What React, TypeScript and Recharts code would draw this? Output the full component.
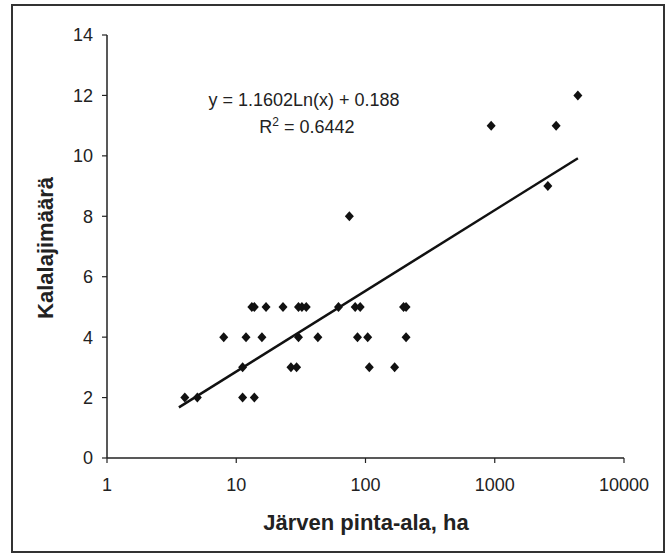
import React from 'react';
import { ScatterChart, Scatter, XAxis, YAxis, Label } from 'recharts';

// lake area in hectares and the number of fish species found in it
const lakeArea = [
  4.0, 5.0, 11.2, 13.8,
  11.2, 26.5, 29.3, 107, 168,
  8.0, 11.9, 15.8, 30.3, 42.8, 86.7, 104, 206,
  13.2, 13.8, 17.0, 23.0, 30.3, 32.2, 34.8, 61.8, 83.2, 91, 197, 206,
  75, 2575, 938, 2985, 4395,
];
const speciesCount = [
  2, 2, 2, 2,
  3, 3, 3, 3, 3,
  4, 4, 4, 4, 4, 4, 4, 4,
  5, 5, 5, 5, 5, 5, 5, 5, 5, 5, 5, 5,
  8, 9, 11, 11, 12,
];

// logarithmic trend y = a*ln(x) + b, drawn over the data range
const trendA = 1.1602;
const trendB = 0.188;
const trendRSquared = 0.6442;
const trendRange = [3.6, 4400];

const xTicks = [1, 10, 100, 1000, 10000];
const yTicks = [0, 2, 4, 6, 8, 10, 12, 14];

const lakes = lakeArea.map((x, i) => ({ x, y: speciesCount[i] }));
const trend = trendRange.map((x) => ({ x, y: trendA * Math.log(x) + trendB }));

const FONT = '"Liberation Sans", Arial, sans-serif';
const INK = '#222';

const Diamond = (props: any) => {
  const { cx, cy } = props;
  return (
    <path
      d={`M${cx},${cy - 5}L${cx + 4.5},${cy}L${cx},${cy + 5}L${cx - 4.5},${cy}Z`}
      fill="#111"
    />
  );
};

const NoDot = () => <g />;

export default function App() {
  return (
    <div style={{ position: 'absolute', left: 0, top: 0, width: 666, height: 558, background: '#fff' }}>
      <div
        style={{
          position: 'absolute',
          left: 11,
          top: 4,
          width: 654,
          height: 549,
          border: '2px solid #333',
          boxSizing: 'border-box',
        }}
      />
      <div style={{ position: 'absolute', left: 0, top: 0 }}>
        <ScatterChart width={666} height={558} margin={{ top: 35, right: 42, bottom: 0, left: 0 }}>
          <XAxis
            type="number"
            dataKey="x"
            scale="log"
            domain={[1, 10000]}
            ticks={xTicks}
            allowDataOverflow
            height={100}
            tickSize={5}
            tickMargin={15}
            axisLine={{ stroke: INK, strokeWidth: 1.5 }}
            tickLine={{ stroke: INK, strokeWidth: 1.2 }}
            tick={{ fontSize: 18, fill: INK, fontFamily: FONT }}
          >
            <Label
              content={() => (
                <text x={366} y={530} textAnchor="middle" fontSize={22} fontWeight="bold" fill={INK} fontFamily={FONT}>
                  Järven pinta-ala, ha
                </text>
              )}
            />
          </XAxis>
          <YAxis
            type="number"
            dataKey="y"
            domain={[0, 14]}
            ticks={yTicks}
            width={107}
            tickSize={5}
            tickMargin={9}
            axisLine={{ stroke: INK, strokeWidth: 1.5 }}
            tickLine={{ stroke: INK, strokeWidth: 1.2 }}
            tick={{ fontSize: 18, fill: INK, fontFamily: FONT }}
          >
            <Label
              content={() => (
                <text
                  x={53}
                  y={248}
                  transform="rotate(-90, 53, 248)"
                  textAnchor="middle"
                  fontSize={22}
                  fontWeight="bold"
                  fill={INK}
                  fontFamily={FONT}
                >
                  Kalalajimäärä
                </text>
              )}
            />
          </YAxis>
          <Scatter
            data={trend}
            line={{ stroke: '#111', strokeWidth: 2.5 }}
            shape={NoDot}
            isAnimationActive={false}
          />
          <Scatter data={lakes} shape={Diamond} isAnimationActive={false} />
          <g fontFamily={FONT} fontSize={18} fill={INK}>
            <text x={304} y={106} textAnchor="middle">
              {`y = ${trendA}Ln(x) + ${trendB}`}
            </text>
            <text x={307} y={133} textAnchor="middle">
              R<tspan dy={-7} fontSize={12}>2</tspan>
              <tspan dy={7}>{` = ${trendRSquared}`}</tspan>
            </text>
          </g>
        </ScatterChart>
      </div>
    </div>
  );
}
